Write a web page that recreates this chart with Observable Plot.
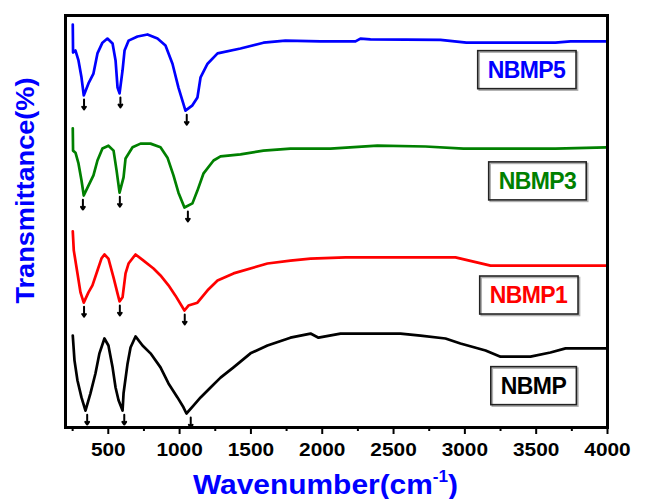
<!DOCTYPE html>
<html>
<head>
<meta charset="utf-8">
<script src="https://cdn.jsdelivr.net/npm/d3@7"></script>
<script src="https://cdn.jsdelivr.net/npm/@observablehq/plot@0.6"></script>
<style>
  body { margin: 0; background: #fff; }
  #chart svg { font-family: "Liberation Sans", Arial, sans-serif; background: #fff; }
</style>
</head>
<body>
<div id="chart"></div>
<script>
// FTIR spectra of the four samples (stacked, arbitrary transmittance units)
const samples = ["NBMP5", "NBMP3", "NBMP1", "NBMP"];
const sampleColors = ["#0000ff", "#008000", "#ff0000", "#000000"];

const wnNBMP5 = [251, 253, 270, 291, 312, 328, 361, 396, 424, 459, 494, 530, 551, 565, 579, 600, 614, 642, 705, 775, 845, 901, 950, 992, 1041, 1090, 1125, 1147, 1196, 1266, 1427, 1588, 1742, 1988, 2233, 2268, 2338, 2829, 3011, 3635, 3741, 3993];
const tNBMP5  = [97.8, 91.0, 91.5, 89.1, 85.0, 80.6, 83.5, 85.9, 90.8, 93.4, 94.4, 93.2, 89.1, 82.5, 81.1, 86.7, 91.5, 93.9, 94.9, 95.4, 94.4, 92.7, 88.3, 82.5, 76.9, 78.2, 80.1, 85.0, 88.3, 90.8, 92.0, 93.4, 93.9, 93.7, 93.7, 94.4, 94.2, 94.1, 93.4, 93.4, 93.7, 93.7];

const wnNBMP3 = [251, 253, 270, 291, 312, 328, 361, 396, 424, 459, 501, 537, 558, 579, 607, 621, 670, 726, 796, 866, 915, 957, 992, 1034, 1090, 1125, 1168, 1238, 1287, 1427, 1588, 1777, 2058, 2387, 2724, 2990, 3635, 3993];
const tNBMP3  = [72.6, 67.2, 66.7, 64.1, 60.0, 56.3, 58.7, 61.2, 64.8, 67.7, 68.4, 67.2, 62.4, 57.0, 60.7, 65.3, 68.0, 68.9, 68.9, 68.0, 65.5, 61.2, 57.0, 53.4, 54.4, 57.5, 61.7, 64.8, 65.8, 66.3, 67.2, 67.7, 67.7, 68.4, 68.2, 67.7, 67.7, 68.0];

const wnNBMP1 = [251, 258, 284, 305, 328, 361, 389, 424, 452, 473, 501, 537, 565, 579, 600, 621, 642, 691, 747, 817, 866, 922, 971, 1034, 1062, 1125, 1196, 1266, 1378, 1616, 1777, 1918, 2163, 2934, 3180, 3993];
const tNBMP1  = [47.6, 43.0, 37.4, 32.8, 30.3, 32.8, 34.5, 38.1, 41.0, 42.0, 41.0, 36.4, 32.5, 30.6, 31.6, 37.4, 39.8, 42.0, 40.5, 38.6, 36.9, 34.5, 32.0, 28.4, 29.6, 30.3, 33.3, 35.7, 37.4, 39.8, 40.5, 41.0, 41.3, 41.3, 39.3, 39.3];

const wnNBMP = [251, 263, 284, 312, 340, 375, 410, 438, 473, 501, 530, 551, 572, 600, 607, 635, 656, 691, 740, 796, 866, 922, 985, 1027, 1048, 1097, 1147, 1217, 1287, 1378, 1497, 1616, 1777, 1918, 1974, 2128, 2549, 2689, 2864, 2969, 3145, 3250, 3460, 3600, 3706, 3993];
const tNBMP  = [22.3, 16.3, 11.4, 7.3, 4.1, 8.3, 13.1, 18.0, 21.6, 19.9, 14.6, 9.7, 6.6, 4.1, 8.3, 15.5, 19.4, 22.1, 19.9, 18.0, 14.6, 10.7, 7.3, 4.9, 3.4, 5.3, 7.3, 9.7, 12.1, 14.6, 18.0, 19.9, 21.8, 22.8, 21.8, 22.8, 22.8, 22.3, 21.6, 20.4, 18.7, 17.2, 17.2, 18.2, 19.2, 19.2];

// absorption bands marked with arrows (cm-1)
const bandsNBMP5 = [330, 585, 1050];
const bandsNBMP3 = [322, 581, 1058];
const bandsNBMP1 = [330, 581, 1036];
const bandsNBMP  = [352, 612, 1078];

// sample name boxes (wavenumber, transmittance of the label centre)
const labelWn = [3432, 3509, 3446, 3481];
const labelT  = [86.7, 59.7, 32.0, 10.0];

const majorTicks = [500, 1000, 1500, 2000, 2500, 3000, 3500, 4000];
const minorTicks = [250, 750, 1250, 1750, 2250, 2750, 3250, 3750];

const xTitle = "Wavenumber(cm-1)";
const yTitle = "Transmittance(%)";

const seriesWn = [wnNBMP5, wnNBMP3, wnNBMP1, wnNBMP];
const seriesT = [tNBMP5, tNBMP3, tNBMP1, tNBMP];
const seriesBands = [bandsNBMP5, bandsNBMP3, bandsNBMP1, bandsNBMP];

const spectra = samples.map((name, i) =>
  seriesWn[i].map((wn, j) => ({sample: name, wn, t: seriesT[i][j]})));

// each arrow sits just under the local minimum of its spectrum
const arrows = samples.flatMap((name, i) => seriesBands[i].map(b => {
  const near = spectra[i].filter(d => Math.abs(d.wn - b) <= 45);
  const tMin = d3.min(near, d => d.t);
  return {sample: name, wn: b, y1: tMin - 1.0, y2: tMin - 3.4};
}));

const labels = samples.map((name, i) => ({sample: name, wn: labelWn[i], t: labelT[i], color: sampleColors[i]}));

const chart = Plot.plot({
  width: 646,
  height: 499,
  marginLeft: 65,
  marginRight: 39,
  marginTop: 15,
  marginBottom: 72,
  style: {fontFamily: "'Liberation Sans', Arial, sans-serif"},
  x: {domain: [200, 4000], axis: null},
  y: {domain: [0, 100], axis: null},
  marks: [
    ...spectra.map((rows, i) => Plot.line(rows, {
      x: "wn", y: "t", stroke: sampleColors[i], strokeWidth: 2.7, strokeLinejoin: "round"
    })),
    Plot.arrow(arrows, {
      x1: "wn", x2: "wn", y1: "y1", y2: "y2",
      stroke: "#000", strokeWidth: 2, headLength: 5, headAngle: 70
    }),
    Plot.text(labels, {
      x: "wn", y: "t", text: "sample", fill: "color",
      fontSize: 23, fontWeight: "bold", lineAnchor: "middle", textAnchor: "middle"
    }),
    Plot.axisX(majorTicks, {
      tickSize: 7, tickPadding: 8, strokeWidth: 2, stroke: "#000",
      tickFormat: d => String(d),
      fontSize: 19, fontWeight: "bold", fill: "#000", label: null
    }),
    Plot.axisX(minorTicks, {
      tickSize: 4, strokeWidth: 2, stroke: "#000", tickFormat: () => "", label: null
    }),
    Plot.text([xTitle], {
      frameAnchor: "bottom", textAnchor: "middle", lineAnchor: "bottom", dx: -11, dy: 66,
      fontSize: 28, fontWeight: "bold", fill: "#0000ff"
    }),
    Plot.text([yTitle], {
      frameAnchor: "left", textAnchor: "middle", rotate: -90, lineAnchor: "middle", dx: -40, dy: -31,
      fontSize: 25, fontWeight: "bold", fill: "#0000ff"
    }),
    Plot.frame({stroke: "#000", strokeWidth: 3})
  ]
});

document.getElementById("chart").append(chart);

const svgNS = "http://www.w3.org/2000/svg";
const allTexts = Array.from(chart.querySelectorAll("text"));
const stretch = (t, len) => {
  t.setAttribute("textLength", len);
  t.setAttribute("lengthAdjust", "spacingAndGlyphs");
};

// wide bold tick numbers
allTexts.filter(t => majorTicks.map(String).includes(t.textContent))
  .forEach(t => stretch(t, t.textContent.length * 11.6));

// boxes around the sample names
allTexts.filter(t => samples.includes(t.textContent)).forEach(t => {
  t.setAttribute("letter-spacing", "-0.6");
  const b = t.getBBox();
  const padX = 10, h = 38;
  const cy = b.y + b.height / 2;
  const mk = (off, color) => {
    const r = document.createElementNS(svgNS, "rect");
    r.setAttribute("x", b.x - padX + off);
    r.setAttribute("y", cy - h / 2 + off);
    r.setAttribute("width", b.width + 2 * padX);
    r.setAttribute("height", h);
    r.setAttribute("fill", "none");
    r.setAttribute("stroke", color);
    r.setAttribute("stroke-width", 1.6);
    const tr = t.getAttribute("transform");
    if (tr) r.setAttribute("transform", tr);
    t.parentNode.insertBefore(r, t);
  };
  mk(1.5, "#b0b0b0");
  mk(0, "#222");
});

// y title length
allTexts.filter(t => t.textContent === yTitle).forEach(t => stretch(t, 226));

// superscript exponent in the x title
allTexts.filter(t => t.textContent === xTitle).forEach(t => {
  const s = t.textContent;
  const k = s.indexOf("-1");
  t.textContent = "";
  const a = document.createElementNS(svgNS, "tspan");
  a.textContent = s.slice(0, k);
  const sup = document.createElementNS(svgNS, "tspan");
  sup.textContent = "-1";
  sup.setAttribute("font-size", "16");
  sup.setAttribute("dy", "-12");
  const c = document.createElementNS(svgNS, "tspan");
  c.textContent = s.slice(k + 2);
  c.setAttribute("dy", "12");
  t.append(a, sup, c);
  stretch(t, 265);
});
</script>
</body>
</html>
